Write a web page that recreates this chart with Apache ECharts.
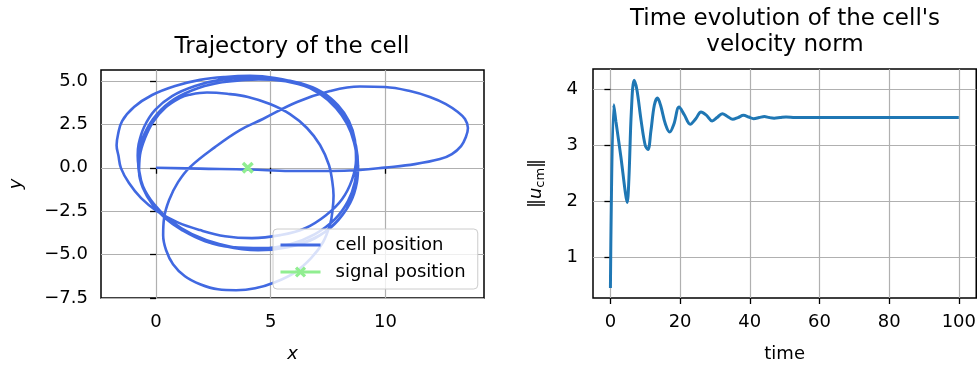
<!DOCTYPE html>
<html>
<head>
<meta charset="utf-8">
<title>cell trajectory</title>
<script src="https://cdn.jsdelivr.net/npm/echarts@6/dist/echarts.min.js"></script>
<style>
	html, body { margin: 0; padding: 0; background: #fff; }
	#main { width: 979px; height: 368px; }
</style>
</head>
<body>
<div id="main"></div>
<script>
// 细胞轨迹 (x, y)
var cellX = [0, 1.92, 4.10, 5.84, 7.59, 8.89, 9.98, 11.29, 12.38, 12.90,
	13.30, 13.51, 13.60, 13.47, 13.16, 12.64, 11.94, 11.07, 9.98, 8.89,
	7.59, 6.15, 4.66, 3.66, 2.57, 1.48, 0.96, 0.57, 0.35, 0.31,
	0.44, 0.74, 1.26, 1.92, 2.70, 3.49, 4.32, 5.19, 6.06, 6.76,
	7.28, 7.59, 7.70, 7.74, 7.68, 7.54, 7.15, 6.58, 5.84, 4.97,
	4.01, 3.10, 2.22, 1.45, 1.05, 0.39, -0.13, -0.48, -0.70, -0.74,
	-0.57, -0.17, 0.39, 1.13, 2.14, 3.31, 4.62, 5.84, 6.93, 7.80,
	8.37, 8.67, 8.76, 8.63, 8.33, 7.85, 7.15, 6.28, 5.19, 4.10,
	3.01, 1.92, 0.83, -0.17, -0.96, -1.48, -1.66, -1.72, -1.64, -1.53,
	-1.18, -0.65, 0.04, 0.92, 1.92, 3.01, 4.18, 5.41, 6.50, 7.41,
	8.11, 8.54, 8.72, 8.67, 8.41, 7.93, 7.24, 6.28, 5.19, 4.01,
	2.79, 1.70, 0.70, -0.04, -0.52, -0.76, -0.80, -0.76, -0.57, -0.09,
	0.61, 1.57, 2.79, 4.10, 5.41, 6.58, 7.59, 8.28, 8.67, 8.81,
	8.72, 8.41, 7.89, 7.15, 6.19, 5.06, 4.47, 3.88, 2.70, 1.61,
	0.61, -0.13, -0.61, -0.78, -0.61, -0.13, 0.61, 1.70, 3.01, 4.45,
	5.75, 6.93, 7.85, 8.46, 8.76, 8.81];
var cellY = [0, -0.05, -0.10, -0.19, -0.19, -0.13, 0.01, 0.21, 0.50, 0.79,
	1.25, 1.77, 2.29, 2.81, 3.21, 3.67, 4.08, 4.42, 4.65, 4.68,
	4.42, 3.79, 2.81, 2.17, 1.19, 0.04, -0.83, -1.86, -2.90, -3.88,
	-4.75, -5.55, -6.25, -6.71, -7.00, -7.05, -6.94, -6.59, -6.02, -5.21,
	-4.29, -3.25, -2.40, -1.60, -0.75, 0.16, 1.31, 2.29, 3.09, 3.67,
	4.08, 4.26, 4.33, 4.20, 4.02, 3.44, 2.64, 1.71, 0.73, -0.25,
	-1.17, -2.09, -2.90, -3.59, -4.23, -4.57, -4.63, -4.40, -3.82, -2.96,
	-1.92, -0.82, 0.33, 1.48, 2.52, 3.44, 4.25, 4.83, 5.17, 5.29,
	5.23, 5.06, 4.71, 4.19, 3.50, 2.69, 1.90, 1.30, 0.70, -0.02,
	-0.88, -1.75, -2.50, -3.13, -3.59, -3.94, -4.05, -3.88, -3.48, -2.73,
	-1.81, -0.71, 0.44, 1.60, 2.69, 3.61, 4.36, 4.88, 5.11, 5.17,
	5.06, 4.71, 4.13, 3.33, 2.35, 1.35, 0.70, 0.05, -1.06, -2.09,
	-3.02, -3.82, -4.40, -4.69, -4.63, -4.23, -3.48, -2.44, -1.29, -0.02,
	1.25, 2.46, 3.50, 4.31, 4.83, 5.07, 5.09, 5.05, 4.88, 4.48,
	3.79, 2.81, 1.60, 0.33, -0.94, -2.04, -3.08, -3.94, -4.52, -4.75,
	-4.57, -4.06, -3.13, -2.04, -0.82, 0.16];
// 信号位置
var signalX = [4.0];
var signalY = [0.0];

// 速度模
var time = [0, 0.95, 1.6, 3.0, 4.3, 4.8, 5.3, 6.0, 6.8, 7.6,
	8.8, 10.0, 10.8, 11.6, 12.6, 13.5, 14.4, 15.8, 17.0, 18.2,
	19.7, 21.2, 22.9, 24.5, 26.0, 27.6, 29.2, 30.6, 32.1, 33.6,
	35.1, 36.6, 38.2, 39.7, 41.1, 42.7, 44.2, 45.6, 47.0, 48.7,
	50.4, 53, 57, 62, 70, 80, 90, 100];
var speed = [0.45, 3.73, 3.42, 2.8, 2.15, 1.98, 2.4, 3.6, 4.17, 4.0,
	3.45, 3.0, 2.93, 3.25, 3.72, 3.85, 3.72, 3.38, 3.24, 3.38,
	3.69, 3.55, 3.38, 3.48, 3.60, 3.54, 3.44, 3.50, 3.57, 3.52,
	3.47, 3.50, 3.54, 3.51, 3.48, 3.50, 3.52, 3.50, 3.49, 3.50,
	3.51, 3.50, 3.50, 3.50, 3.50, 3.50, 3.50, 3.50];

// 刻度
var trajXTicks = [0, 5, 10];
var trajYTicks = [-7.5, -5, -2.5, 0, 2.5, 5];
var timeTicks = [0, 20, 40, 60, 80, 100];
var speedTicks = [1, 2, 3, 4];

var FONT = 'DejaVu Sans';
var xMarker = 'path://M2,0 L5,3 L8,0 L10,2 L7,5 L10,8 L8,10 L5,7 L2,10 L0,8 L3,5 L0,2 Z';
var barIcon = 'path://M0,0 L40,0 L40,3 L0,3 Z';

function minus(v) {
	return String(v).replace('-', '\u2212');
}

function pairs(xs, ys) {
	return xs.map(function(x, i) { return [x, ys[i]]; });
}

// 通用坐标轴样式
function axisCommon(ticks, fmt, margin) {
	return {
		axisLine: { show: false },
		axisTick: {
			show: true, length: 6, customValues: ticks,
			lineStyle: { color: '#000', width: 1.3 }
		},
		axisLabel: {
			customValues: ticks, margin: margin,
			color: '#000', fontFamily: FONT, fontSize: 18,
			formatter: fmt
		},
		splitLine: { show: true, lineStyle: { color: '#b0b0b0', width: 1.2 } },
		nameTextStyle: { color: '#000', fontFamily: FONT, fontSize: 18 }
	};
}

var myChart = echarts.init(document.getElementById('main'));

var option = {
	animation: false,
	backgroundColor: '#fff',
	title: [{
		text: 'Trajectory of the cell',
		left: 292, top: 34, textAlign: 'center', padding: 0,
		textStyle: { fontFamily: FONT, fontSize: 23, fontWeight: 'normal', color: '#000', lineHeight: 26 }
	}, {
		text: "Time evolution of the cell's\nvelocity norm",
		left: 785, top: 6, textAlign: 'center', padding: 0,
		textStyle: { fontFamily: FONT, fontSize: 23, fontWeight: 'normal', color: '#000', lineHeight: 26 }
	}],
	legend: {
		data: [{ name: 'cell position', icon: barIcon }, { name: 'signal position' }],
		orient: 'vertical',
		left: 273, top: 229,
		padding: [6, 12, 7, 6],
		itemWidth: 40, itemHeight: 14, itemGap: 7,
		lineStyle: { width: 3 },
		backgroundColor: 'rgba(255,255,255,0.8)',
		borderColor: '#cccccc', borderWidth: 1, borderRadius: 4,
		textStyle: { fontFamily: FONT, fontSize: 18, color: '#000', lineHeight: 20, padding: [0, 0, 0, 10] }
	},
	grid: [{
		left: 101, top: 70, width: 383, height: 228,
		show: true, borderColor: '#000', borderWidth: 1.5
	}, {
		left: 593, top: 69, width: 384, height: 230,
		show: true, borderColor: '#000', borderWidth: 1.5
	}],
	xAxis: [
		Object.assign(axisCommon(trajXTicks, function(v) { return minus(v); }, 15), {
			gridIndex: 0, type: 'value', min: -2.4, max: 14.3, interval: 5,
			name: 'x', nameLocation: 'middle', nameGap: 47,
			nameTextStyle: { color: '#000', fontFamily: FONT, fontSize: 18, fontStyle: 'italic' }
		}),
		Object.assign(axisCommon(timeTicks, function(v) { return minus(v); }, 15), {
			gridIndex: 1, type: 'value', min: -5, max: 105, interval: 20,
			name: 'time', nameLocation: 'middle', nameGap: 47
		})
	],
	yAxis: [
		Object.assign(axisCommon(trajYTicks, function(v) { return minus(v.toFixed(1)); }, 13), {
			gridIndex: 0, type: 'value', min: -7.5, max: 5.63, interval: 2.5,
			name: 'y', nameLocation: 'middle', nameGap: 76, nameRotate: 90,
			nameTextStyle: { color: '#000', fontFamily: FONT, fontSize: 18, fontStyle: 'italic' }
		}),
		Object.assign(axisCommon(speedTicks, function(v) { return minus(v); }, 15), {
			gridIndex: 1, type: 'value', min: 0.27, max: 4.37, interval: 1,
			name: '{a|\u2016}{b|u}{c|cm}{a|\u2016}', nameLocation: 'middle', nameGap: 46, nameRotate: 90,
			nameTextStyle: {
				color: '#000', fontFamily: FONT, fontSize: 18,
				rich: {
					a: { fontFamily: FONT, fontSize: 18, lineHeight: 22 },
					b: { fontFamily: FONT, fontSize: 18, fontStyle: 'italic', lineHeight: 22 },
					c: { fontFamily: FONT, fontSize: 13, lineHeight: 22, verticalAlign: 'bottom' }
				}
			}
		})
	],
	series: [{
		name: 'cell position',
		type: 'line',
		xAxisIndex: 0, yAxisIndex: 0,
		data: pairs(cellX, cellY),
		smooth: 0.4,
		showSymbol: false, symbol: 'none',
		lineStyle: { color: '#4169e1', width: 2.6 },
		itemStyle: { color: '#4169e1' },
		z: 2
	}, {
		name: 'signal position',
		type: 'line',
		xAxisIndex: 0, yAxisIndex: 0,
		data: pairs(signalX, signalY),
		symbol: xMarker, symbolSize: 12, showSymbol: true,
		lineStyle: { color: '#90ee90', width: 3 },
		itemStyle: { color: '#90ee90' },
		z: 3
	}, {
		name: 'speed',
		type: 'line',
		xAxisIndex: 1, yAxisIndex: 1,
		data: pairs(time, speed),
		smooth: 0.35,
		showSymbol: false, symbol: 'none',
		lineStyle: { color: '#1f77b4', width: 3 },
		itemStyle: { color: '#1f77b4' }
	}]
};
myChart.setOption(option);
</script>
</body>
</html>
